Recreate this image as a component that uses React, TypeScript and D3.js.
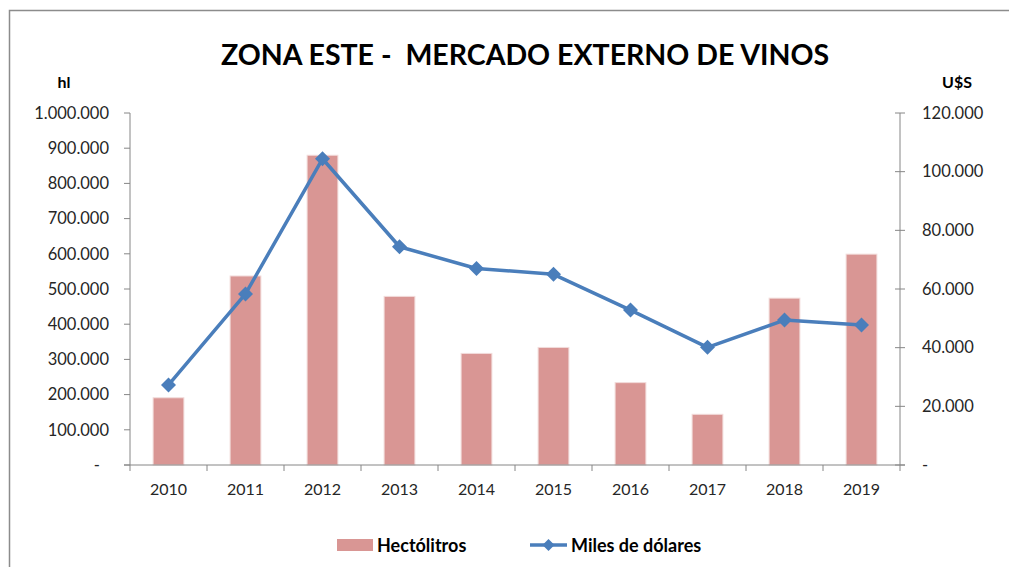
import React from 'react';
import * as d3 from 'd3';

// data
const years = ['2010', '2011', '2012', '2013', '2014', '2015', '2016', '2017', '2018', '2019'];
const hectolitros = [191000, 537000, 880000, 479000, 317000, 334000, 234000, 144000, 474000, 599000];
const milesDolares = [27300, 58300, 104400, 74400, 67000, 65000, 52800, 40100, 49400, 47700];
const leftTicks = [0, 100000, 200000, 300000, 400000, 500000, 600000, 700000, 800000, 900000, 1000000];
const rightTicks = [0, 20000, 40000, 60000, 80000, 100000, 120000];

const W = 1009, H = 567;
const margin = { top: 113, bottom: 102, left: 130, right: 109 };
const font = 'Lato, "Open Sans", sans-serif';
const axisColor = '#868686';
const barColor = '#d99694';
const lineColor = '#4a7ebb';
const textColor = '#262626';

const locale = d3.formatLocale({ decimal: ',', thousands: '.', grouping: [3], currency: ['$', ''] });
const fmt = (v: number) => (v === 0 ? '-' : locale.format(',.0f')(v));

function App() {
    const x = d3.scaleBand().domain(years).range([margin.left, W - margin.right]);
    const yL = d3.scaleLinear().domain([0, 1000000]).range([H - margin.bottom, margin.top]);
    const yR = d3.scaleLinear().domain([0, 120000]).range([H - margin.bottom, margin.top]);
    const bw = x.bandwidth() * 0.4;
    const cx = (d: string) => (x(d) as number) + x.bandwidth() / 2;
    const y0 = H - margin.bottom;

    const line = d3.line<number>()
        .x((d, i) => cx(years[i]))
        .y((d) => yR(d));

    const diamond = (px: number, py: number, r: number) =>
        `M${px},${py - r}L${px + r},${py}L${px},${py + r}L${px - r},${py}Z`;

    return (
        <svg width={W} height={H} style={{ position: 'absolute', left: 0, top: 0 }} fontFamily={font}>
            <rect x={0} y={0} width={W} height={H} fill="white" />
            {/* chart border */}
            <rect x={9.5} y={10.5} width={W + 10} height={H + 10} fill="none" stroke="#8c8c8c" strokeWidth={1.5} />

            <text x={525} y={65} textAnchor="middle" fontSize={28.5} fontWeight="bold" fill="#000" style={{ whiteSpace: 'pre' }}>
                {'ZONA ESTE -  MERCADO EXTERNO DE VINOS'}
            </text>
            <text x={64} y={88} textAnchor="middle" fontSize={16} fontWeight="bold">hl</text>
            <text x={957} y={88} textAnchor="middle" fontSize={16} fontWeight="bold">U$S</text>

            {/* bars */}
            {hectolitros.map((v, i) => (
                <rect key={i} x={cx(years[i]) - bw / 2} y={yL(v)} width={bw} height={y0 - yL(v)}
                    fill={barColor} stroke="#f2dcdb" strokeWidth={1} />
            ))}

            {/* left axis */}
            <line x1={margin.left} x2={margin.left} y1={margin.top} y2={y0} stroke={axisColor} />
            {leftTicks.map((t) => (
                <g key={t}>
                    <line x1={margin.left - 6} x2={margin.left} y1={yL(t)} y2={yL(t)} stroke={axisColor} />
                    <text x={t === 0 ? 100 : 109} y={yL(t)} dy="0.35em" textAnchor="end" fontSize={16.5} fill={textColor}>{fmt(t)}</text>
                </g>
            ))}

            {/* right axis */}
            <line x1={W - margin.right} x2={W - margin.right} y1={margin.top} y2={y0} stroke={axisColor} />
            {rightTicks.map((t) => (
                <g key={t}>
                    <line x1={W - margin.right - 5} x2={W - margin.right + 5} y1={yR(t)} y2={yR(t)} stroke={axisColor} />
                    <text x={922} y={yR(t)} dy="0.35em" textAnchor="start" fontSize={16.5} fill={textColor}>{fmt(t)}</text>
                </g>
            ))}

            {/* x axis */}
            <line x1={margin.left - 6} x2={W - margin.right + 5} y1={y0} y2={y0} stroke={axisColor} />
            {years.map((d) => (
                <g key={d}>
                    <line x1={x(d)} x2={x(d)} y1={y0} y2={y0 + 6} stroke={axisColor} />
                    <text x={cx(d)} y={495} textAnchor="middle" fontSize={16} fill={textColor}>{d}</text>
                </g>
            ))}
            <line x1={W - margin.right} x2={W - margin.right} y1={y0} y2={y0 + 6} stroke={axisColor} />

            {/* line series */}
            <path d={line(milesDolares) || ''} fill="none" stroke={lineColor} strokeWidth={3.5} strokeLinejoin="round" />
            {milesDolares.map((v, i) => (
                <path key={i} d={diamond(cx(years[i]), yR(v), 7.5)} fill={lineColor} />
            ))}

            {/* legend */}
            <rect x={337} y={539} width={36} height={12} fill={barColor} />
            <text x={377} y={552} fontSize={18} fontWeight="bold">Hectólitros</text>
            <line x1={530} x2={567} y1={545} y2={545} stroke={lineColor} strokeWidth={3.5} />
            <path d={diamond(548.5, 545, 6)} fill={lineColor} />
            <text x={571} y={552} fontSize={18} fontWeight="bold">Miles de dólares</text>
        </svg>
    );
}

export default App;
